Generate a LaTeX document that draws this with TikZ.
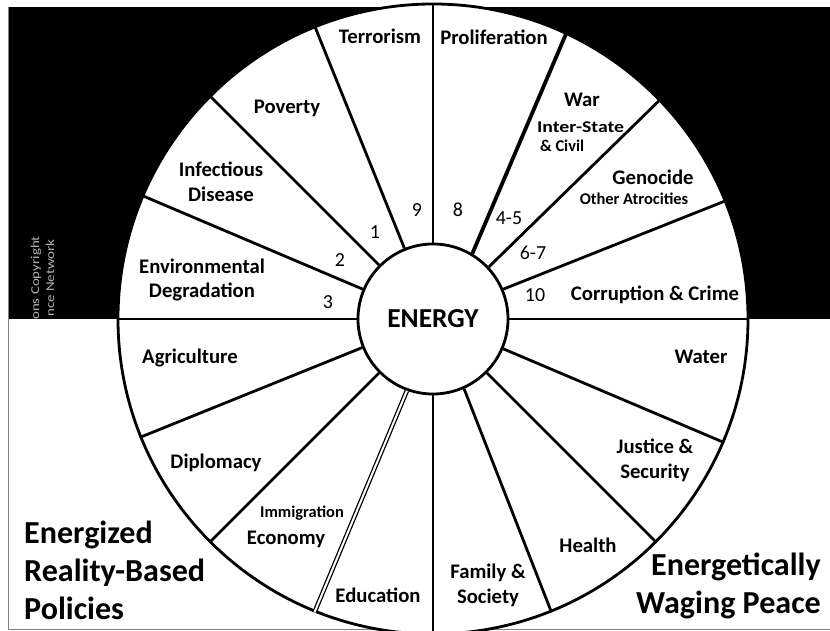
\documentclass[tikz,border=0pt]{standalone}
\usepackage{fontspec}
\setmainfont{Carlito}
\usetikzlibrary{calc}
\begin{document}
\begin{tikzpicture}[x=1bp,y=-1bp,
  spoke/.style={line width=2.8bp},
  lab/.style={font=\fontsize{20.8}{25}\selectfont\bfseries, align=center, inner sep=0},
  sml/.style={font=\fontsize{16.5}{20}\selectfont\bfseries, inner sep=0},
  num/.style={font=\fontsize{20}{22}\selectfont, inner sep=0},
  big/.style={font=\fontsize{32.2}{38}\selectfont\bfseries, inner sep=0},
  wm/.style={font=\fontsize{12}{13}\selectfont, text=gray!60, rotate=90, anchor=west, inner sep=0}]
\useasboundingbox (0,0) rectangle (830,631);
\begin{scope}
\clip (0,0) rectangle (830,631);
\fill[black] (8,7) rectangle (830,319);
\draw[gray, line width=0.8bp] (8,7) -- (8,629) -- (830,629);
\node[wm] (wm1) at (36,320) {\scalebox{1.25}[1]{ons Copyright}};
\node[wm] (wm2) at (50,317) {\scalebox{1.25}[1]{nce Network}};
\coordinate (c) at (433,319);
\node[circle, draw, line width=2.8bp, fill=white, minimum size=630bp, inner sep=0] (rim) at (c) {};
\node[circle, draw, line width=2.8bp, fill=white, minimum size=150bp, inner sep=0,
      font=\fontsize{27.5}{30}\selectfont\bfseries] (hub) at (c) {ENERGY};
% spokes
\draw[spoke] (rim.0) -- (hub.0);
\draw[spoke] (rim.22.5) -- (hub.23.5);
\draw[spoke] (rim.44.5) -- (hub.43);
\draw[line width=3.8bp] (rim.65) -- (hub.59.5);
\draw[spoke] (rim.90) -- (hub.90);
\draw[spoke] (rim.112.5) -- (hub.112.5);
\draw[spoke] (rim.135) -- (hub.135);
\draw[spoke] (rim.157.5) -- (hub.157.5);
\draw[spoke] (rim.180) -- (hub.180);
\draw[spoke] (rim.202.5) -- (hub.202.5);
\draw[spoke] (rim.225) -- (hub.225);
\draw[line width=1.3bp, double=white, double distance=2bp] (rim.248) -- (hub.250);
\draw[spoke] (rim.270) -- (hub.270);
\draw[spoke] (rim.292.5) -- (hub.294);
\draw[spoke] (rim.315) -- (hub.315);
\draw[spoke] (rim.337.5) -- (hub.337.5);
% upper labels
\node[lab] (terror) at (380,36) {Terrorism};
\node[lab] (prolif) at (494,37) {Proliferation};
\node[lab] (poverty) at (287,108) {Poverty};
\node[lab] (infect) at (221,182) {Infectious\\Disease};
\node[lab] (envdeg) at (202,280) {Environmental\\Degradation};
\node[lab] (war) at (582,100) {War};
\node[sml, anchor=west] (interstate) at (537,127) {\scalebox{1.2}[1]{Inter-State}};
\node[sml, anchor=west] (civil) at (540,146) {\& Civil};
\node[lab] (genocide) at (653,177) {Genocide};
\node[sml] (atroc) at (634,199) {Other Atrocities};
\node[lab] (corrupt) at (655,295) {Corruption \& Crime};
% numbers
\node[num] (n1) at (375,232) {1};
\node[num] (n2) at (340,260) {2};
\node[num] (n3) at (328,302) {3};
\node[num] (n9) at (417,210) {9};
\node[num] (n8) at (458,210) {8};
\node[num] (n45) at (509,218) {4-5};
\node[num] (n67) at (533,253) {6-7};
\node[num] (n10) at (535,295) {10};
% lower labels
\node[lab] (agri) at (190,358) {Agriculture};
\node[lab] (diplo) at (216,463) {Diplomacy};
\node[sml] (immig) at (302,513) {Immigration};
\node[lab] (econ) at (286,539) {Economy};
\node[lab] (educ) at (378,595) {Education};
\node[lab] (family) at (488,585) {Family \&\\Society};
\node[lab] (health) at (588,545) {Health};
\node[lab] (justice) at (655,460) {Justice \&\\Security};
\node[lab] (water) at (701,357) {Water};
\node[big, align=left, anchor=west] (policies) at (24,570) {Energized\\Reality-Based\\Policies};
\node[big, align=right, anchor=east] (peace) at (821,586) {Energetically\\Waging Peace};
\end{scope}
\end{tikzpicture}
\end{document}
